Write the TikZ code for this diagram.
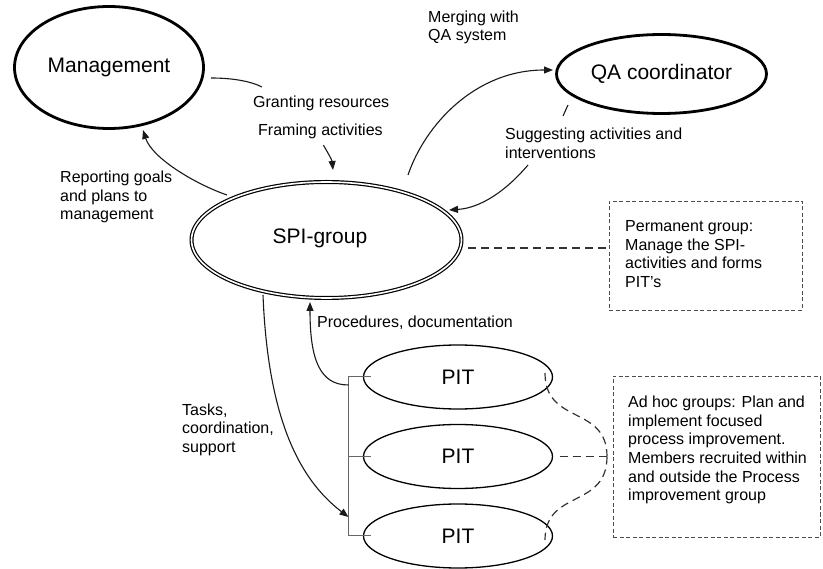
\documentclass[tikz,border=0pt]{standalone}
\usepackage{fontspec}
\setmainfont{Liberation Sans}
\usetikzlibrary{arrows.meta,calc,shapes.geometric}

\begin{document}
\begin{tikzpicture}[x=1pt,y=-1pt,
  big/.style={font=\fontsize{21}{25}\selectfont},
  small/.style={font=\fontsize{16}{18.6}\selectfont, inner sep=0pt, align=left},
  actor/.style={ellipse, draw, line width=2.8pt, outer sep=0pt, inner sep=0pt, big},
  team/.style={ellipse, draw, line width=1.3pt, outer sep=0pt, inner sep=0pt, big,
    minimum width=189pt, minimum height=64pt},
  core/.style={ellipse, draw, double, line width=1.2pt, double distance=1.6pt,
    outer sep=0pt, minimum width=270pt, minimum height=116pt},
  note/.style={draw=black!70, line width=0.8pt, dash pattern=on 4pt off 2.5pt, outer sep=0pt},
  flow/.style={line width=1.1pt, draw=black!90},
  arr/.style={flow, -{Triangle[length=9pt,width=7pt]}},
  link/.style={line width=1.2pt, draw=black!80, dash pattern=on 8pt off 5pt},
  bracket/.style={line width=1pt, draw=black!60},
]
\useasboundingbox (0,0) rectangle (823,569);

% main actors
\node[actor, minimum width=189pt, minimum height=122pt] (mgmt) at (109,67.5) {Management};
\node[actor, minimum width=210pt, minimum height=79pt] (qa) at (661.5,74) {QA coordinator};
\node[core] (spi) at (326.5,240) {};
\node[big, inner sep=0pt] (spitext) at (320,238) {SPI-group};

% improvement teams
\node[team] (pit1) at (458,377) {PIT};
\node[team] (pit2) at (458,456.5) {PIT};
\node[team] (pit3) at (458,536) {PIT};

% notes
\node[note, minimum width=193pt, minimum height=109pt] (perm) at (705.5,255.5) {};
\node[small, anchor=west] (permtext) at (625,254)
  {Permanent group:\\Manage the SPI-\\activities and forms\\PIT’s};
\node[note, minimum width=207pt, minimum height=161pt] (adhoc) at (716.5,456.5) {};
\node[small, anchor=west] (adhoctext) at (628,450)
  {Ad hoc groups: Plan and\\implement focused\\process improvement.\\Members recruited within\\and outside the Process\\improvement group};

% flow labels
\node[small, anchor=west] (grant) at (253,103) {Granting resources};
\node[small, anchor=west] (frame) at (258,131) {Framing activities};
\node[small, anchor=west] (merge) at (428,27.5) {Merging with\\QA system};
\node[small, anchor=west] (sugg) at (505,143) {Suggesting activities and\\interventions};
\node[small, anchor=west] (report) at (60,197) {Reporting goals\\and plans to\\management};
\node[small, anchor=west] (proc) at (317,323) {Procedures, documentation};
\node[small, anchor=west] (tasks) at (182,429.5) {Tasks,\\coordination,\\support};

% management <-> SPI-group
\draw[flow] ($(mgmt.center)+(102,10.5)$) .. controls (232,78) and (250,81) .. ($(grant.west)+(9,-16)$);
\draw[arr] ($(frame.south)+(3,6.5)$) .. controls (328,153) and (332,160) .. ($(spi.north)+(6.5,-12)$);
\draw[arr] ($(spi.center)+(-99.5,-45)$) .. controls (195,184) and (152,158) .. ($(mgmt.center)+(34,62.5)$);

% SPI-group <-> QA coordinator
\draw[arr] ($(spi.center)+(81.5,-65)$) .. controls (425,125) and (475,70) .. ($(qa.west)+(-3.5,-4)$);
\draw[flow] ($(qa.center)+(-93.5,31)$) -- ($(sugg.west)+(58,-27)$);
\draw[arr] ($(sugg.west)+(23,22)$) .. controls (505,192) and (480,208) .. ($(spi.center)+(122.5,-30)$);

% SPI-group note
\draw[link] ($(spi.center)+(141.5,8)$) -- ($(perm.west)+(0,-7.5)$);

% team bracket
\draw[bracket] ($(pit1.west)+(7,0)$) -- ++(-22,0) coordinate (brtop) |- ($(pit3.west)+(7,0)$);
\draw[bracket] ($(pit2.west)+(7,0)$) -- ++(-22,0);
\coordinate (brproc) at ($(brtop)+(0,8)$);
\coordinate (brtask) at ($(brtop)+(0,140)$);

\draw[arr] ($(spi.center)+(-63.5,55)$) .. controls (268,420) and (300,480) .. (brtask);
\draw[arr] (brproc) .. controls (320,385) and (310,360) .. ($(spi.center)+(-16.5,62)$);

% brace to the ad hoc note
\coordinate (bracetip) at ($(adhoc.west)+(-6,0)$);
\draw[link] ($(pit1.center)+(87,-4)$) .. controls (545,425) and (607,405) .. (bracetip);
\draw[link] (bracetip) .. controls (607,509) and (545,489) .. ($(pit3.center)+(87,4)$);
\draw[link] ($(pit2.east)+(7,0)$) -- (bracetip);
\end{tikzpicture}
\end{document}
